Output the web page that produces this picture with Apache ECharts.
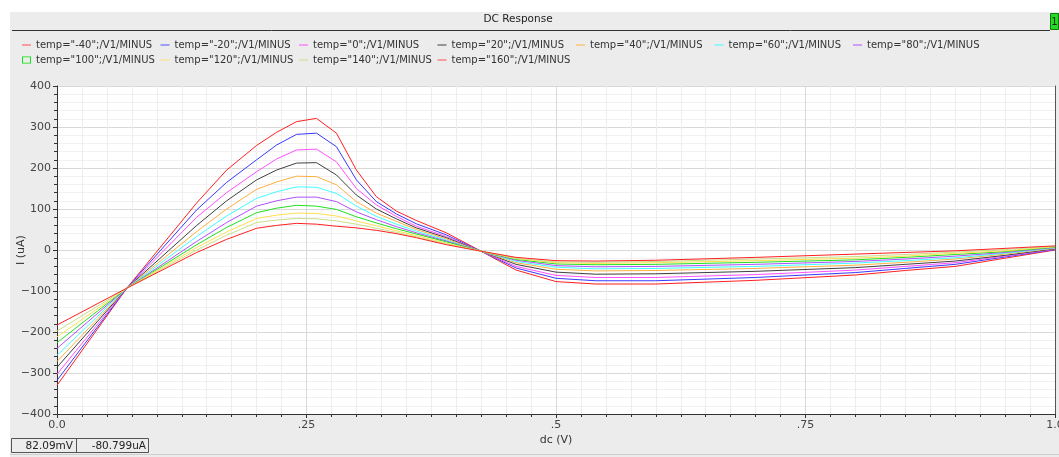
<!DOCTYPE html>
<html><head><meta charset="utf-8">
<script src="https://cdn.jsdelivr.net/npm/echarts@6/dist/echarts.min.js"></script>
<style>html,body{margin:0;padding:0;background:#fff;}#c{width:1059px;height:457px;}</style>
</head><body><div id="c"></div>
<script>
// ---- data ----
const dcVolts = [0, 0.07, 0.14, 0.17, 0.2, 0.22, 0.24, 0.26, 0.28, 0.30, 0.32, 0.34, 0.36, 0.39, 0.425, 0.46, 0.5, 0.54, 0.6, 0.7, 0.8, 0.85, 0.9, 0.95, 1.0];
const temps = ['-40', '-20', '0', '20', '40', '60', '80', '100', '120', '140', '160'];
const i_m40 = [-330, -93, 115, 195, 255, 287, 313, 321, 285, 195, 130, 95, 72, 42, -3, -49, -77, -83, -83, -74, -61, -50, -40, -20, 0];
const i_m20 = [-318, -93, 98, 165, 220, 256, 282, 285, 252, 171, 118, 88, 64, 37, -3, -44, -69, -75, -75, -67, -55, -45, -35, -17, 1];
const i_0   = [-303, -93, 80, 140, 191, 222, 244, 246, 215, 150, 110, 82, 58, 33, -3, -40, -62, -67, -67, -60, -49, -40, -31, -15, 2];
const i_20  = [-286, -93, 60, 120, 171, 195, 212, 213, 183, 134, 100, 76, 54, 30, -3, -35, -54, -59, -58, -52, -43, -35, -27, -13, 3];
const i_40  = [-272, -93, 45, 100, 148, 166, 180, 179, 159, 118, 90, 70, 50, 27, -3, -31, -47, -51, -50, -45, -37, -30, -22, -10, 4];
const i_60  = [-257, -93, 33, 83, 126, 142, 154, 153, 138, 107, 82, 63, 46, 24, -3, -28, -42, -46, -45, -40, -32, -26, -19, -8, 5];
const i_80  = [-240, -93, 21, 67, 107, 120, 129, 129, 118, 93, 74, 57, 42, 22, -3, -25, -38, -41, -40, -35, -28, -22, -15, -6, 6];
const i_100 = [-226, -93, 13, 55, 91, 102, 109, 107, 99, 81, 66, 52, 39, 20, -3, -23, -34, -36, -35, -30, -24, -18, -11, -4, 7];
const i_120 = [-212, -93, 6, 44, 77, 85, 90, 89, 83, 71, 59, 47, 35, 17, -3, -21, -31, -33, -31, -26, -20, -15, -8, -2, 8];
const i_140 = [-198, -93, 0, 36, 67, 73, 77, 76, 71, 63, 53, 43, 32, 15, -3, -20, -29, -30, -28, -22, -16, -11, -5, 1, 9];
const i_160 = [-183, -93, -6, 26, 53, 60, 65, 63, 58, 54, 48, 40, 30, 13, -3, -18, -26, -27, -25, -18, -10, -6, -2, 4, 10];
const currents = [i_m40, i_m20, i_0, i_20, i_40, i_60, i_80, i_100, i_120, i_140, i_160];
const xTickLabels = ['0.0', '.25', '.5', '.75', '1.0'];
const yTickValues = [-400, -300, -200, -100, 0, 100, 200, 300, 400];

// ---- style ----
const colors = ['#ff2020', '#3a3aff', '#ff50ff', '#404040', '#ffb040', '#40ffff', '#b050ff', '#20e020', '#ffe050', '#c8e088', '#ff2020'];
const legendColors = ['#ff5050', '#5050ff', '#ff50ff', '#404040', '#ffb040', '#40ffff', '#b050ff', '#00e000', '#ffe070', '#c8e088', '#ff5050'];
const FONT = 'DejaVu Sans';
const lineIcon = 'path://M0,0 L0.001,0 Z M0,8 L0.001,8 Z M0,3.5 L9,3.5 L9,4.5 L0,4.5 Z';
const boxIcon = 'path://M0,0 L10,0 L10,8 L0,8 Z M1,1 L1,7 L9,7 L9,1 Z';

const names = temps.map(t => 'temp="' + t + '";/V1/MINUS');
const series = names.map((n, k) => ({
  name: n, type: 'line', showSymbol: false, symbol: 'none',
  lineStyle: { width: 1, color: colors[k] }, itemStyle: { color: colors[k] },
  animation: false, silent: true,
  data: dcVolts.map((x, j) => [x, currents[k][j]])
}));

const chart = echarts.init(document.getElementById('c'), null, { renderer: 'canvas' });
chart.setOption({
  animation: false,
  backgroundColor: '#ececec',
  textStyle: { fontFamily: FONT },
  legend: {
    left: 22, top: 40, padding: 0, itemGap: 5, itemWidth: 9, itemHeight: 8,
    width: 990, selectedMode: false,
    itemStyle: { borderWidth: 0 },
    textStyle: { fontFamily: FONT, fontSize: 10, color: '#333', width: 119.5, lineHeight: 10 },
    data: names.map((n, k) => ({
      name: n,
      icon: temps[k] === '100' ? boxIcon : lineIcon,
      itemStyle: { color: legendColors[k], borderWidth: 0 }
    }))
  },
  grid: { left: 57, right: 4, top: 86, bottom: 43, outerBoundsMode: 'none', containLabel: false,
    show: true, backgroundColor: '#ffffff', borderWidth: 0 },
  xAxis: {
    type: 'value', min: 0, max: 1, interval: 0.25,
    name: 'dc (V)', nameLocation: 'middle', nameGap: 21, nameMoveOverlap: false,
    nameTextStyle: { fontFamily: FONT, fontSize: 11, color: '#333' },
    axisLine: { show: true, onZero: false, lineStyle: { color: '#333' } },
    axisTick: { show: true, length: 4, lineStyle: { color: '#333' } },
    minorTick: { show: true, splitNumber: 10, length: 3, lineStyle: { color: '#333' } },
    axisLabel: { fontFamily: FONT, fontSize: 11, color: '#444', margin: 6, hideOverlap: false,
      formatter: v => xTickLabels[Math.round(v / 0.25)] },
    splitLine: { show: true, lineStyle: { color: '#d8d8d8' } },
    minorSplitLine: { show: true, lineStyle: { color: '#ededed' } }
  },
  yAxis: [{
    type: 'value', min: -400, max: 400, interval: 100,
    name: 'I (uA)', nameLocation: 'middle', nameGap: 30, nameMoveOverlap: false,
    nameTextStyle: { fontFamily: FONT, fontSize: 11, color: '#333' },
    axisLine: { show: true, onZero: false, lineStyle: { color: '#333' } },
    axisTick: { show: true, length: 4, lineStyle: { color: '#333' } },
    minorTick: { show: true, splitNumber: 5, length: 3, lineStyle: { color: '#333' } },
    axisLabel: { fontFamily: FONT, fontSize: 11, color: '#444', margin: 6,
      formatter: v => { const t = yTickValues.find(q => q === v); return String(t).replace('-', '\u2212'); } },
    splitLine: { show: true, lineStyle: { color: '#d8d8d8' } },
    minorSplitLine: { show: true, lineStyle: { color: '#f1f1f1' } }
  }, {
    type: 'value', position: 'right', min: -400, max: 400, interval: 100,
    axisLine: { show: true, onZero: false, lineStyle: { color: '#555' } },
    axisTick: { show: false }, axisLabel: { show: false }, splitLine: { show: false }
  }],
  series: series,
  graphic: [
    { type: 'rect', shape: { x: 0, y: 0, width: 1059, height: 12 }, style: { fill: '#ffffff' }, silent: true },
    { type: 'rect', shape: { x: 0, y: 0, width: 10, height: 457 }, style: { fill: '#ffffff' }, silent: true },
    { type: 'line', shape: { x1: 12, y1: 30.5, x2: 1050, y2: 30.5 }, style: { stroke: '#333', lineWidth: 1 }, silent: true },
    { type: 'text', x: 518, y: 19, style: { text: 'DC Response', fontFamily: FONT, fontSize: 10.5, fill: '#222', align: 'center', verticalAlign: 'middle' }, silent: true },
    { type: 'rect', shape: { x: 1050.5, y: 13.5, width: 8, height: 16 }, style: { fill: '#22dd22', stroke: '#117711', lineWidth: 1 }, silent: true },
    { type: 'text', x: 1054.5, y: 22, style: { text: '1', fontFamily: FONT, fontSize: 10, fill: '#222', align: 'center', verticalAlign: 'middle' }, silent: true },
    { type: 'rect', shape: { x: 11.5, y: 438.5, width: 137, height: 14 }, style: { fill: 'none', stroke: '#555', lineWidth: 1 }, silent: true },
    { type: 'line', shape: { x1: 76.5, y1: 438.5, x2: 76.5, y2: 452.5 }, style: { stroke: '#555', lineWidth: 1 }, silent: true },
    { type: 'text', x: 73, y: 446, style: { text: '82.09mV', fontFamily: FONT, fontSize: 10.5, fill: '#222', align: 'right', verticalAlign: 'middle' }, silent: true },
    { type: 'text', x: 146, y: 446, style: { text: '-80.799uA', fontFamily: FONT, fontSize: 10.5, fill: '#222', align: 'right', verticalAlign: 'middle' }, silent: true },
    { type: 'line', shape: { x1: 10, y1: 454.5, x2: 1059, y2: 454.5 }, style: { stroke: '#cfcfcf', lineWidth: 1 }, silent: true }
  ]
});
</script></body></html>
